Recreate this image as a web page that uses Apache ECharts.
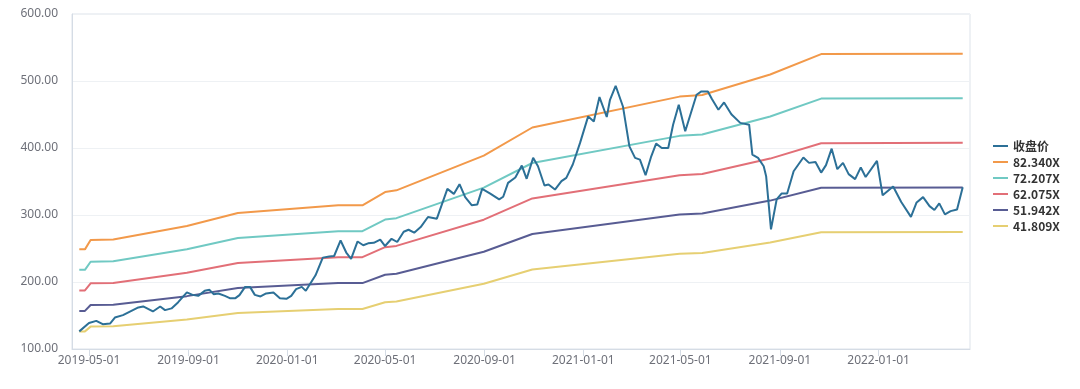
<!DOCTYPE html>
<html>
<head>
<meta charset="utf-8">
<script src="https://cdn.jsdelivr.net/npm/echarts@6/dist/echarts.min.js"></script>
<style>
html,body{margin:0;padding:0;background:#fff;}
#chart{width:1080px;height:389px;}
</style>
</head>
<body>
<div id="chart"></div>
<script>
// ---- data ----
var seriesNames = ['收盘价', '82.340X', '72.207X', '62.075X', '51.942X', '41.809X'];
var xTickLabels = ['2019-05-01', '2019-09-01', '2020-01-01', '2020-05-01', '2020-09-01', '2021-01-01', '2021-05-01', '2021-09-01', '2022-01-01'];
var yTickLabels = [100, 200, 300, 400, 500, 600];

var priceDates = ['2019-04-19','2019-05-01','2019-05-10','2019-05-18','2019-05-27','2019-06-02','2019-06-12','2019-06-20','2019-07-01','2019-07-07','2019-07-19','2019-07-28','2019-08-03','2019-08-11','2019-08-19','2019-08-30','2019-09-06','2019-09-13','2019-09-21','2019-09-27','2019-10-02','2019-10-08','2019-10-16','2019-10-22','2019-10-29','2019-11-03','2019-11-10','2019-11-16','2019-11-22','2019-11-29','2019-12-06','2019-12-15','2019-12-23','2019-12-31','2020-01-06','2020-01-12','2020-01-19','2020-01-24','2020-02-05','2020-02-14','2020-02-22','2020-02-28','2020-03-07','2020-03-14','2020-03-20','2020-03-28','2020-04-04','2020-04-10','2020-04-17','2020-04-25','2020-05-01','2020-05-09','2020-05-16','2020-05-24','2020-05-30','2020-06-06','2020-06-14','2020-06-23','2020-07-04','2020-07-17','2020-07-25','2020-08-01','2020-08-08','2020-08-16','2020-08-23','2020-08-29','2020-09-08','2020-09-19','2020-09-24','2020-09-30','2020-10-09','2020-10-17','2020-10-23','2020-10-31','2020-11-06','2020-11-14','2020-11-19','2020-11-27','2020-12-05','2020-12-11','2020-12-19','2020-12-28','2021-01-07','2021-01-14','2021-01-21','2021-01-30','2021-02-03','2021-02-10','2021-02-19','2021-02-27','2021-03-06','2021-03-12','2021-03-19','2021-03-26','2021-04-01','2021-04-08','2021-04-16','2021-04-22','2021-04-29','2021-05-07','2021-05-21','2021-05-27','2021-06-04','2021-06-09','2021-06-17','2021-06-24','2021-07-03','2021-07-14','2021-07-25','2021-07-29','2021-08-05','2021-08-12','2021-08-15','2021-08-21','2021-08-28','2021-09-03','2021-09-10','2021-09-18','2021-09-30','2021-10-07','2021-10-15','2021-10-22','2021-10-28','2021-11-04','2021-11-11','2021-11-18','2021-11-25','2021-12-03','2021-12-10','2021-12-16','2021-12-30','2022-01-06','2022-01-19','2022-01-29','2022-02-10','2022-02-17','2022-02-25','2022-03-05','2022-03-11','2022-03-17','2022-03-24','2022-03-31','2022-04-08','2022-04-15'];
var priceValues = [126.3,138.7,142.0,137.0,138.0,147.0,150.6,155.5,162.0,163.5,156.0,163.5,158.0,160.6,169.5,184.4,180.8,179.3,186.8,188.3,181.8,182.9,179.3,175.9,175.9,180.4,192.7,192.7,180.8,178.4,182.9,184.4,175.9,174.9,179.3,189.3,192.7,186.8,210.0,236.4,238.0,238.8,262.0,244.0,234.5,260.5,254.8,257.7,258.5,263.2,253.7,264.5,259.7,275.0,278.0,273.6,282.0,297.0,294.5,339.0,331.5,346.0,326.7,314.7,315.8,339.0,332.0,323.2,327.2,348.0,356.0,373.8,354.0,385.3,372.8,344.0,345.5,338.0,350.5,355.5,375.3,407.6,447.2,439.7,476.0,446.3,472.0,492.9,462.0,402.5,385.3,382.7,359.4,387.6,406.5,400.1,400.1,434.8,464.6,424.9,479.5,484.4,484.2,473.0,457.1,468.0,450.5,437.5,434.8,390.2,385.3,372.8,358.0,278.6,323.2,332.0,332.0,365.3,385.8,377.8,379.0,363.3,374.5,399.0,368.4,377.8,361.0,353.5,371.0,356.7,380.7,329.4,342.5,319.5,297.2,318.7,326.7,313.2,307.5,317.3,300.9,305.8,308.3,341.5];

var bandDates = ['2019-04-19','2019-04-26','2019-05-03','2019-05-31','2019-08-30','2019-11-01','2020-03-04','2020-04-03','2020-05-01','2020-05-15','2020-08-31','2020-10-30','2021-04-30','2021-05-28','2021-08-20','2021-10-22','2022-04-15'];
var band82 = [248.7,248.7,262.7,263.5,283.7,303.0,314.5,314.5,334.3,336.8,388.6,430.6,476.7,479.2,509.7,540.2,540.8];
var band72 = [218.1,218.1,230.3,231.1,248.8,265.7,275.8,275.8,293.2,295.3,340.8,377.6,418.1,420.2,447.0,473.7,474.3];
var band62 = [187.5,187.5,198.0,198.6,213.9,228.4,237.1,237.1,252.0,253.9,293.0,324.7,359.4,361.3,384.2,407.2,407.7];
var band51 = [156.9,156.9,165.7,166.2,178.9,191.1,198.4,198.4,210.9,212.4,245.2,271.7,300.7,302.3,321.5,340.7,341.2];
var band41 = [126.3,126.3,133.4,133.8,144.0,153.9,159.7,159.7,169.7,171.0,197.3,218.7,242.1,243.3,258.8,274.3,274.6];

var colors = ['#2c7097', '#f2994a', '#70c9c3', '#e26f77', '#585c93', '#e6cf72'];

// ---- build ----
function ts(s) { return +echarts.time.parse(s); }
function pairs(dates, vals) {
  return dates.map(function (d, i) { return [ts(d), vals[i]]; });
}
var bands = [band82, band72, band62, band51, band41];
var tickVals = xTickLabels.map(ts);
var font = "'Noto Sans', 'Noto Sans CJK SC', sans-serif";

var series = [{
  name: seriesNames[0], type: 'line', data: pairs(priceDates, priceValues),
  symbol: 'none', lineStyle: { width: 2, color: colors[0] }, itemStyle: { color: colors[0] }, z: 5
}];
bands.forEach(function (b, i) {
  series.push({
    name: seriesNames[i + 1], type: 'line', data: pairs(bandDates, b),
    symbol: 'none', lineStyle: { width: 2, color: colors[i + 1] }, itemStyle: { color: colors[i + 1] }, z: 3
  });
});

var chart = echarts.init(document.getElementById('chart'), null, { renderer: 'canvas' });
chart.setOption({
  animation: false,
  color: colors,
  textStyle: { fontFamily: font },
  grid: { left: 72, right: 110, top: 14, bottom: 40, show: true, borderColor: '#dde3ea', borderWidth: 1, backgroundColor: 'transparent' },
  legend: {
    orient: 'vertical', left: 988, top: 135,
    itemWidth: 15, itemHeight: 14, itemGap: 4,
    data: seriesNames.map(function (n) { return { name: n, icon: 'path://M0,6 L15,6 L15,8 L0,8 Z' }; }),
    textStyle: { fontFamily: "'Noto Sans CJK SC', 'Noto Sans', sans-serif", fontSize: 12, fontWeight: 'bold', color: '#333' }
  },
  xAxis: {
    type: 'value',
    min: ts('2019-04-10'),
    max: ts('2022-04-24'),
    axisLine: { show: true, lineStyle: { color: '#d5dce5' } },
    axisTick: { show: true, customValues: tickVals, length: 7, lineStyle: { color: '#d5dce5' } },
    axisLabel: {
      customValues: tickVals, color: '#6e7079', fontSize: 12, fontFamily: font, margin: 6,
      formatter: function (v) { return xTickLabels[tickVals.indexOf(v)] || echarts.time.format(v, '{yyyy}-{MM}-{dd}', false); }
    },
    splitLine: { show: false }
  },
  yAxis: {
    type: 'value', min: yTickLabels[0], max: yTickLabels[yTickLabels.length - 1], interval: 100,
    axisLine: { show: true, lineStyle: { color: '#d5dce5' } },
    axisTick: { show: false },
    axisLabel: { color: '#6e7079', fontSize: 12, fontFamily: font, margin: 14,
      formatter: function (v) { return v.toFixed(2); } },
    splitLine: { show: true, lineStyle: { color: '#eef1f4' } }
  },
  series: series
});
</script>
</body>
</html>
